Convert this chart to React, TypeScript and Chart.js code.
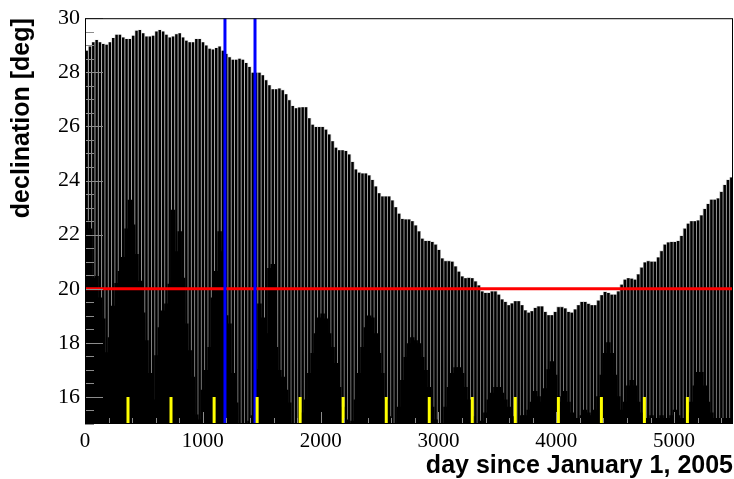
import React, { useEffect, useRef } from "react";
import { Chart, registerables } from "chart.js";

Chart.register(...registerables);

const DAY_MAX = 5500;

// monthly peak declination (deg), left to right
const peakDeclination = [
  28.80, 28.95, 29.11, 29.19, 29.11, 29.05, 29.02, 29.11, 29.27, 29.39,
  29.39, 29.29, 29.23, 29.23, 29.35, 29.54, 29.56, 29.44, 29.32, 29.32,
  29.35, 29.51, 29.56, 29.51, 29.39, 29.29, 29.32, 29.41, 29.44, 29.29,
  29.17, 29.11, 29.11, 29.23, 29.23, 29.11, 28.99, 28.87, 28.84, 28.90,
  28.95, 28.80, 28.68, 28.56, 28.46, 28.46, 28.50, 28.46, 28.34, 28.20,
  27.98, 27.98, 27.98, 27.89, 27.71, 27.52, 27.37, 27.37, 27.40, 27.34,
  27.19, 26.97, 26.75, 26.67, 26.70,
  26.71, 26.71, 26.30, 26.06, 25.98, 25.98, 25.98, 25.88, 25.70, 25.45,
  25.21, 25.12, 25.12, 25.09, 24.96, 24.68, 24.41, 24.29, 24.26, 24.26,
  24.19, 24.02, 23.78, 23.53, 23.41, 23.41, 23.41, 23.26, 23.01, 22.77,
  22.58, 22.56, 22.56, 22.49, 22.34, 22.12, 21.85, 21.76, 21.76, 21.73,
  21.63, 21.43, 21.12, 21.02, 21.02, 21.00, 20.82, 20.63, 20.45, 20.39,
  20.40, 20.39, 20.27, 20.12, 19.90, 19.84, 19.84, 19.90, 19.90, 19.78,
  19.60, 19.51, 19.39, 19.45, 19.54, 19.54,
  19.39, 19.20, 19.11, 19.17, 19.29, 19.34, 19.34, 19.14, 19.02, 19.02,
  19.14, 19.32, 19.32, 19.27, 19.14, 19.11, 19.23, 19.39, 19.51, 19.51,
  19.44, 19.39, 19.39, 19.56, 19.76, 19.88, 19.84, 19.78, 19.78, 19.90,
  20.15, 20.33, 20.39, 20.37, 20.33, 20.53, 20.78, 20.97, 21.02, 21.00,
  21.00, 21.15, 21.39, 21.63, 21.71, 21.73, 21.73, 21.76, 21.95, 22.22,
  22.40, 22.49, 22.49, 22.52, 22.71, 22.95, 23.13, 23.29, 23.29, 23.34,
  23.58, 23.83, 24.02, 24.11,
];

// level (deg) below which the thin gaps between the monthly bars are filled black
const gapFloor = [
  22.5, 22.2, 20.38, 20.45, 19.65, 18.88, 17.63, 18.18, 19.35, 20.19,
  20.63, 21.15, 22.2, 23.27, 22.35, 21.26, 20.27, 19.1, 18.07, 16.86,
  15.88, 17.52, 18.55, 19.17, 19.43, 20.16, 22.9, 21.36, 22.1, 20.38,
  18.69, 17.7, 16.72, 15.33, 15.14, 16.24, 16.97, 17.82, 19.65, 20.63,
  22.1, 21.36, 19.0, 18.69, 16.86, 15.77, 15, 15, 15, 15.1,
  15.3, 17.0, 19.43, 18.91, 18.33, 20.74, 20.89, 17.82, 16.97, 16.72,
  16.24, 15.77, 15, 15, 15,
  15.4, 15.88, 16.86, 17.6, 18.33, 18.91, 19.06, 18.88, 18.33, 17.82,
  17.23, 16.35, 15.62, 15.14, 15, 15.1, 15.88, 16.86, 17.82, 18.55,
  18.99, 18.91, 18.33, 17.6, 16.86, 15.88, 15.26, 15, 15, 15.62,
  16.6, 17.45, 17.96, 18.18, 18.07, 17.96, 17.45, 16.97, 16.35, 15.62,
  15.14, 15, 15, 15.62, 16.35, 16.86, 17.08, 17.08, 16.86, 16.35,
  15.88, 15.26, 15, 15, 15.1, 15.4, 15.88, 16.13, 16.35, 16.35,
  16.13, 15.88, 15.62, 15.26, 15, 15,
  15.3, 15.3, 15.5, 15.8, 16.2, 16.0, 15.8, 16.3, 17.0, 17.3,
  16.8, 16.0, 15.8, 16.2, 15.8, 15.4, 15.2, 15.2, 15.3, 15.5,
  15.4, 15.3, 15.5, 16.0, 16.8, 17.6, 18.0, 17.6, 16.8, 16.0,
  15.5, 15.8, 16.4, 16.6, 16.4, 15.8, 15.4, 15.2, 15.2, 15.3,
  15.2, 15.2, 15.3, 15.2, 15.2, 15.3, 15.5, 15.3, 15.2, 15.2,
  15.4, 15.8, 16.4, 16.9, 16.9, 16.4, 15.8, 15.4, 15.2, 15.2,
  15.2, 15.2, 15.2, 15.2,
];

// January 1 of each following year (days since Jan 1, 2005)
const yearStartDays = [365, 730, 1096, 1461, 1826, 2191, 2557, 2922, 3287, 3652, 4018, 4383, 4748, 5113];
const markerDays = [1188, 1443];
const thresholdDeg = 20;

const yTickValues = [16, 18, 20, 22, 24, 26, 28, 30];
const yTickLabels = ["16", "18", "20", "22", "24", "26", "28", "30"];
const xTickValues = [0, 1000, 2000, 3000, 4000, 5000];
const xTickLabels = ["0", "1000", "2000", "3000", "4000", "5000"];

const Y_MIN = 15;
const Y_MAX = 30;

const frameTicks = {
  id: "frameTicks",
  afterDatasetsDraw(chart: any) {
    const { ctx, chartArea: a, scales } = chart;
    const x = scales.x;
    const y = scales.y;
    ctx.save();
    ctx.lineWidth = 1;
    ctx.strokeStyle = "#8c8c8c";
    for (let v = Y_MIN; v <= Y_MAX + 0.001; v += 0.5) {
      const py = Math.round(y.getPixelForValue(v)) + 0.5;
      const len = Math.abs(v % 2) < 0.001 ? 18 : 9;
      ctx.beginPath();
      ctx.moveTo(a.left, py);
      ctx.lineTo(a.left + len, py);
      ctx.stroke();
    }
    for (let d = 0; d <= DAY_MAX + 0.001; d += 200) {
      const px = Math.round(x.getPixelForValue(d)) + 0.5;
      const len = d % 1000 === 0 ? 12 : 6;
      ctx.beginPath();
      ctx.moveTo(px, a.bottom);
      ctx.lineTo(px, a.bottom - len);
      ctx.stroke();
    }
    ctx.strokeStyle = "#000";
    ctx.strokeRect(a.left + 0.5, a.top + 0.5, a.right - a.left - 1, a.bottom - a.top - 1);
    ctx.restore();
  },
};

let gapGradient: CanvasGradient | null = null;
function gapColor(c: any) {
  const area = c.chart.chartArea;
  if (!area) return "#bbbbbb";
  if (!gapGradient) {
    const g = c.chart.ctx.createLinearGradient(0, area.top, 0, area.bottom);
    g.addColorStop(0, "#dcdcdc");
    g.addColorStop(0.45, "#b4b4b4");
    g.addColorStop(1, "#7c7c7c");
    gapGradient = g;
  }
  return gapGradient;
}

export default function App() {
  const ref = useRef<HTMLCanvasElement | null>(null);

  useEffect(() => {
    if (!ref.current) return;
    gapGradient = null;
    const n = peakDeclination.length;
    const binDays = DAY_MAX / n;
    const peakData = peakDeclination.map((v, i) => ({ x: (i + 0.5) * binDays, y: v }));
    const floorData = gapFloor.map((v, i) => ({ x: (i + 0.5) * binDays, y: v }));

    const blueData: any[] = [];
    markerDays.forEach((d) => {
      blueData.push({ x: d, y: Y_MIN }, { x: d, y: Y_MAX }, { x: d, y: null });
    });
    const yellowData: any[] = [];
    yearStartDays.forEach((d) => {
      yellowData.push({ x: d, y: Y_MIN }, { x: d, y: 16 }, { x: d, y: null });
    });
    const redData = [
      { x: 0, y: thresholdDeg },
      { x: DAY_MAX, y: thresholdDeg },
    ];

    const chart = new Chart(ref.current, {
      type: "bar",
      data: {
        datasets: [
          {
            type: "line",
            data: yellowData,
            borderColor: "#ffff00",
            borderWidth: 3,
            pointRadius: 0,
            borderCapStyle: "butt",
            spanGaps: false,
            order: 0,
          } as any,
          {
            type: "line",
            data: blueData,
            borderColor: "#0000ff",
            borderWidth: 3,
            pointRadius: 0,
            borderCapStyle: "butt",
            spanGaps: false,
            order: 1,
          } as any,
          {
            type: "line",
            data: redData,
            borderColor: "#ff0000",
            borderWidth: 3,
            pointRadius: 0,
            borderCapStyle: "butt",
            order: 2,
          } as any,
          {
            type: "bar",
            data: peakData,
            backgroundColor: "#000000",
            borderWidth: 0,
            barPercentage: 0.74,
            categoryPercentage: 1,
            inflateAmount: 0,
            grouped: false,
            base: Y_MIN,
            order: 3,
          } as any,
          {
            type: "bar",
            data: floorData,
            backgroundColor: "#000000",
            borderWidth: 0,
            barPercentage: 1,
            categoryPercentage: 1,
            inflateAmount: 0.6,
            grouped: false,
            base: Y_MIN,
            order: 4,
          } as any,
          {
            type: "bar",
            data: peakData,
            backgroundColor: gapColor,
            borderWidth: 0,
            barPercentage: 1,
            categoryPercentage: 1,
            inflateAmount: 0.3,
            grouped: false,
            base: Y_MIN,
            order: 5,
          } as any,
        ],
      },
      options: {
        responsive: false,
        animation: false,
        events: [],
        layout: { padding: { top: 14, right: 1, left: 0, bottom: 0 } },
        plugins: { legend: { display: false }, tooltip: { enabled: false } },
        scales: {
          x: {
            type: "linear",
            min: 0,
            max: DAY_MAX,
            offset: false,
            grid: { display: false, drawTicks: false },
            border: { display: false },
            afterBuildTicks: (s: any) => {
              s.ticks = xTickValues.map((v) => ({ value: v }));
            },
            afterFit: (s: any) => {
              s.height = 55;
            },
            ticks: {
              autoSkip: false,
              maxRotation: 0,
              padding: 5,
              color: "#000",
              font: { family: "Liberation Serif", size: 21 },
              callback: (_v: any, i: number) => xTickLabels[i],
            },
            title: {
              display: true,
              text: "day since January 1, 2005",
              align: "end",
              color: "#000",
              font: { family: "Liberation Sans", weight: "bold", size: 25, lineHeight: 1 },
              padding: { top: 0, bottom: 0.5 },
            },
          },
          y: {
            type: "linear",
            min: Y_MIN,
            max: Y_MAX,
            grid: { display: false, drawTicks: false },
            border: { display: false },
            afterBuildTicks: (s: any) => {
              s.ticks = yTickValues.map((v) => ({ value: v }));
            },
            afterFit: (s: any) => {
              s.width = 85;
            },
            ticks: {
              autoSkip: false,
              padding: 5,
              color: "#000",
              font: { family: "Liberation Serif", size: 22 },
              callback: (_v: any, i: number) => yTickLabels[i],
            },
            title: {
              display: true,
              text: "declination [deg]",
              align: "end",
              color: "#000",
              font: { family: "Liberation Sans", weight: "bold", size: 25, lineHeight: 1 },
              padding: { top: 9.5, bottom: 0 },
            },
          },
        },
      } as any,
      plugins: [frameTicks],
    });
    return () => chart.destroy();
  }, []);

  return (
    <div style={{ position: "absolute", left: 0, top: 0, width: 734, height: 479, background: "#fff" }}>
      <canvas ref={ref} width={734} height={479} style={{ display: "block" }} />
    </div>
  );
}
